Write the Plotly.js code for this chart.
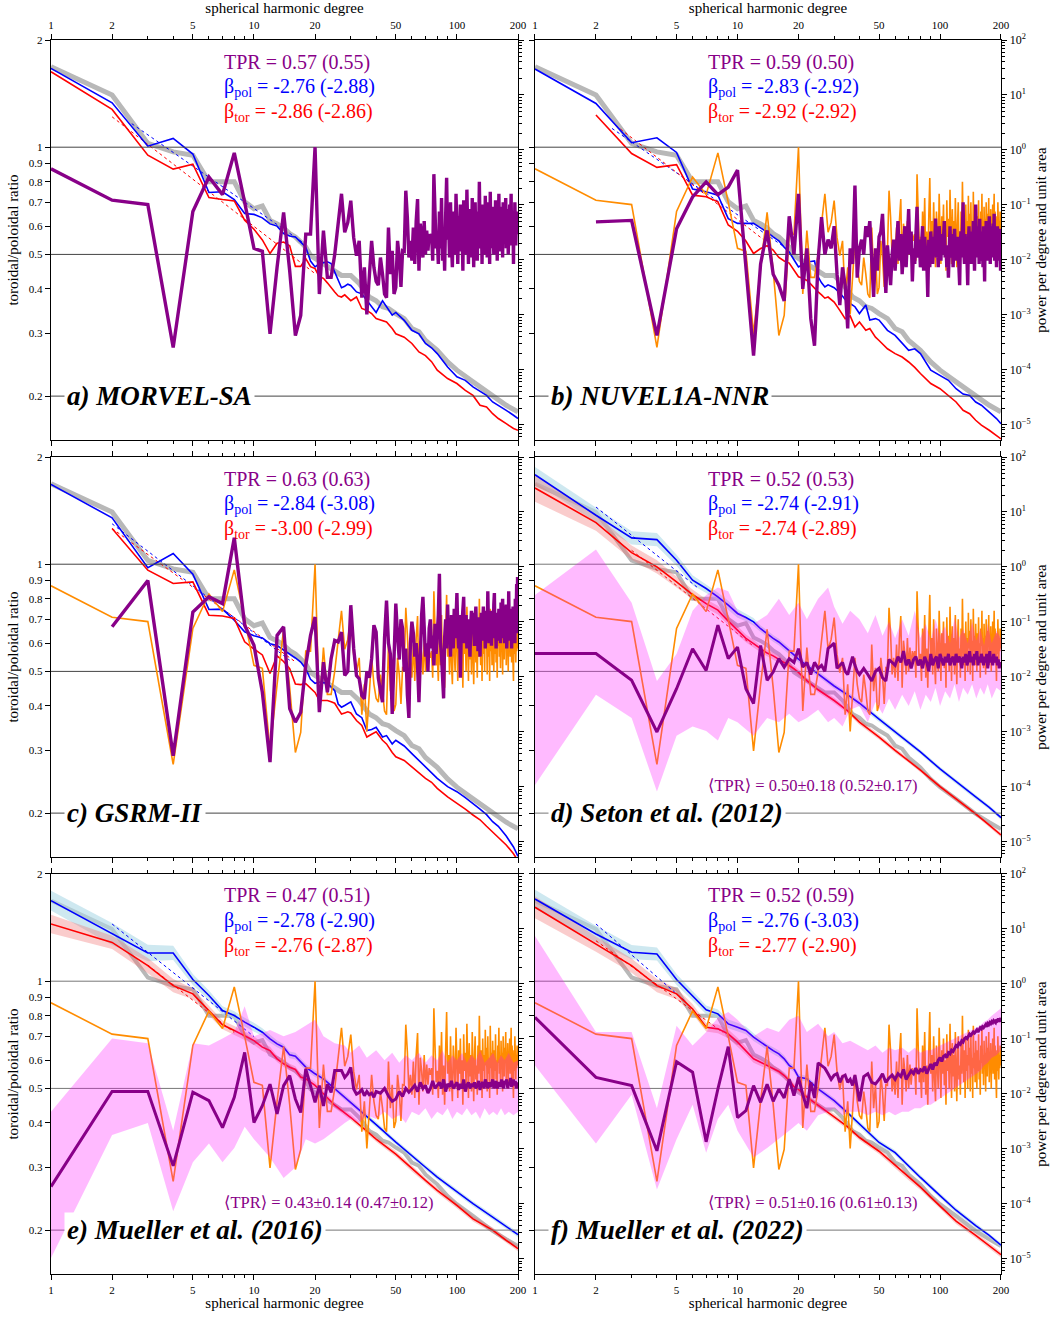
<!DOCTYPE html>
<html><head><meta charset="utf-8">
<script src="https://cdn.plot.ly/plotly-3.0.1.min.js"></script>
<style>body{margin:0;background:#fff}#chart{width:1057px;height:1318px}</style>
</head><body><div id="chart"></div>
<script>
// ---------------- DATA ----------------
// spherical harmonic degrees used by the per-degree TPR curves (1..200)
const DEG = Array.from({length:200},(_,i)=>i+1);
// degrees sampled for power spectra in panels a-c
const DEG_ABC = [1,2,3,4,5,6,7,8,9,10,11,12,13,14,15,16,17,18,19,20,21,22,23,24,25,26,27,28,29,30,
  32,34,36,38,40,43,45,48,50,55,60,65,70,75,80,90,100,110,120,130,140,150,160,175,190,200];
// degrees for gray reference spectrum
const DEG_GRAY = [1,2,3,4,5,6,7,8,9,10,11,12,13,14,15,16,17,18,19,20,21,
  23,25,27,30,33,37,40,43,46,50,55,60,65,70,80,90,100,120,140,150,175,200];
// degrees sampled for power spectra in panels d-f
const DEG_DEF = [1,2,3,4,5,6,7,8,9,10,11,12,13,14,15,16,17,18,19,20,22,25,30,35,40,50,60,70,80,100,120,150,175,200];
// degrees for smoother TPR curves of panels d-f
const DEG_S = [1,2,3,4,5,6,7,8,9,10,11,12,13,14,15,16,17,18,19,20,21,22,23,24,25,26,27,28,29,30,
  31,32,33,34,35,36,37,38,39,40,42,44,46,48,50,52,54,56,58,60,62,64,66,68,70,72,74,76,78,80,
  82,84,86,88,90,92,94,96,98,100,102,104,106,108,110,112,114,116,118,120,122,124,126,128,130,
  132,134,136,138,140,142,144,146,148,150,152,154,156,158,160,162,164,166,168,170,172,174,176,178,180,
  182,184,186,188,190,192,194,196,198,200];
// degrees for TPR spread bands (panels d-f)
const DEG_MB = [1,2,3,4,5,6,7,8,9,10,12,14,16,18,20,22,25,28,30,33,36,40,44,48,52,56,60,
  65,70,75,80,85,90,95,100,106,112,118,124,130,137,144,151,158,165,172,180,190,200];

// toroidal/poloidal ratio of MORVEL-SA (purple in a, orange reference in b-f)
const TPR_MORVEL = [0.87,0.71,0.69,0.274,0.66,0.825,0.736,0.964,0.70,0.52,
0.51,0.299,0.46,0.656,0.45,0.296,0.337,0.57,0.57,1.0,
0.387,0.583,0.431,0.431,0.50,0.622,0.74,0.577,0.615,0.708,
0.558,0.496,0.546,0.378,0.46,0.339,0.44,0.546,0.46,0.42,
0.41,0.49,0.44,0.387,0.378,0.595,0.44,0.512,0.387,0.404,
0.546,0.49,0.405,0.512,0.51,0.755,0.635,0.49,0.546,0.48,
0.595,0.47,0.62,0.715,0.45,0.61,0.56,0.49,0.62,0.50,
0.583,0.512,0.57,0.546,0.57,0.48,0.84,0.61,0.52,0.56,
0.47,0.66,0.52,0.72,0.48,0.58,0.45,0.64,0.82,0.55,
0.62,0.49,0.70,0.53,0.46,0.66,0.59,0.50,0.74,0.57,
0.47,0.64,0.55,0.69,0.51,0.60,0.45,0.71,0.56,0.63,
0.50,0.76,0.58,0.47,0.67,0.54,0.62,0.49,0.72,0.57,
0.46,0.61,0.70,0.53,0.58,0.48,0.66,0.55,0.80,0.60,
0.52,0.64,0.47,0.69,0.56,0.62,0.50,0.73,0.58,0.65,
0.49,0.70,0.55,0.61,0.47,0.75,0.57,0.63,0.52,0.68,
0.58,0.50,0.64,0.56,0.71,0.53,0.60,0.48,0.66,0.59,
0.74,0.55,0.62,0.51,0.68,0.57,0.63,0.49,0.70,0.58,
0.54,0.65,0.60,0.72,0.52,0.61,0.57,0.67,0.50,0.63,
0.59,0.69,0.55,0.62,0.74,0.53,0.66,0.58,0.61,0.47,
0.64,0.56,0.70,0.59,0.53,0.62,0.57,0.66,0.58,0.62];
const TPR_NUVEL = [null,0.617,0.623,0.296,0.59,0.725,0.799,0.736,0.773,0.862,
0.45,0.26,0.47,0.584,0.44,0.41,0.37,0.64,0.50,0.74,
0.40,0.52,0.33,0.277,0.48,0.636,0.50,0.55,0.52,0.60,
0.44,0.36,0.46,0.41,0.31,0.52,0.47,0.78,0.43,0.52,
0.55,0.50,0.60,0.56,0.62,0.48,0.38,0.52,0.45,0.56,
0.58,0.65,0.47,0.39,0.53,0.47,0.41,0.50,0.55,0.45,
0.52,0.62,0.48,0.57,0.44,0.53,0.60,0.46,0.55,0.67,
0.50,0.58,0.42,0.52,0.47,0.60,0.68,0.49,0.55,0.46,
0.53,0.60,0.45,0.56,0.50,0.48,0.38,0.55,0.46,0.58,
0.51,0.47,0.56,0.52,0.63,0.49,0.54,0.46,0.60,0.53,
0.48,0.57,0.50,0.55,0.62,0.49,0.53,0.46,0.51,0.43,
0.55,0.60,0.49,0.53,0.57,0.46,0.52,0.59,0.50,0.55,
0.48,0.56,0.51,0.45,0.41,0.54,0.58,0.49,0.62,0.70,
0.52,0.47,0.57,0.50,0.55,0.46,0.41,0.53,0.60,0.49,
0.56,0.51,0.47,0.58,0.53,0.62,0.50,0.45,0.56,0.69,
0.55,0.49,0.60,0.52,0.57,0.47,0.63,0.51,0.55,0.48,
0.58,0.52,0.46,0.60,0.54,0.42,0.57,0.50,0.62,0.53,
0.48,0.59,0.55,0.50,0.64,0.52,0.47,0.57,0.53,0.60,
0.49,0.55,0.61,0.51,0.65,0.48,0.56,0.52,0.58,0.46,
0.54,0.60,0.50,0.57,0.52,0.48,0.59,0.55,0.45,0.56];
const TPR_GSRM = [null,0.667,0.90,0.29,0.734,0.81,0.775,1.186,0.674,0.592,
0.437,0.278,0.631,0.667,0.393,0.36,0.384,0.52,0.631,0.711,
0.384,0.531,0.437,0.543,0.611,0.605,0.645,0.487,0.50,0.767,
0.58,0.487,0.477,0.428,0.419,0.50,0.48,0.543,0.674,0.645,
0.48,0.44,0.41,0.62,0.79,0.60,0.56,0.38,0.55,0.775,
0.63,0.54,0.70,0.66,0.50,0.58,0.43,0.37,0.60,0.69,
0.64,0.55,0.60,0.52,0.41,0.58,0.72,0.81,0.62,0.55,
0.60,0.50,0.66,0.70,0.58,0.63,0.52,0.68,0.56,0.64,
0.72,0.94,0.60,0.55,0.48,0.42,0.62,0.70,0.58,0.77,
0.60,0.68,0.55,0.72,0.64,0.58,0.75,0.62,0.70,0.83,
0.66,0.58,0.72,0.48,0.63,0.69,0.76,0.81,0.60,0.67,
0.72,0.58,0.65,0.70,0.62,0.55,0.68,0.74,0.64,0.73,
0.66,0.59,0.70,0.76,0.62,0.68,0.57,0.71,0.64,0.55,
0.67,0.73,0.61,0.69,0.76,0.63,0.72,0.58,0.66,0.74,
0.62,0.84,0.68,0.60,0.71,0.65,0.74,0.59,0.70,0.66,
0.63,0.77,0.83,0.62,0.70,0.58,0.73,0.66,0.61,0.69,
0.75,0.64,0.70,0.60,0.78,0.66,0.72,0.80,0.62,0.68,
0.74,0.60,0.70,0.65,0.77,0.58,0.69,0.72,0.63,0.84,
0.68,0.61,0.75,0.66,0.71,0.58,0.70,0.64,0.76,0.62,
0.69,0.73,0.60,0.80,0.66,0.72,0.88,0.64,0.92,0.70];
const TPR_SETON = [0.561,0.561,0.472,0.338,0.447,0.579,0.503,0.674,0.543,0.585,
0.447,0.406,0.591,0.472,0.498,0.543,0.514,0.543,0.53,0.579,
0.514,0.53,0.49,0.53,0.51,0.52,0.50,0.58,0.59,0.60,
0.51,0.52,0.53,0.50,0.49,0.52,0.55,0.52,0.50,0.49,
0.51,0.49,0.47,0.50,0.51,0.48,0.47,0.54,0.53,0.52,0.55,0.53,0.57,0.52,0.54,0.51,0.54,0.55,0.52,0.54,
0.51,0.55,0.53,0.50,0.56,0.52,0.54,0.55,0.51,0.56,0.54,0.52,0.55,0.53,0.56,0.52,0.54,0.55,0.52,0.56,
0.53,0.55,0.54,0.51,0.55,0.53,0.56,0.52,0.54,0.57,0.53,0.55,0.52,0.56,0.54,0.57,0.52,0.55,0.53,0.56,
0.54,0.52,0.55,0.53,0.56,0.51,0.54,0.57,0.53,0.55,0.52,0.56,0.54,0.53,0.55,0.52,0.54,0.51,0.53,0.52];
const TPR_M16 = [0.265,0.49,0.49,0.303,0.488,0.462,0.388,0.472,0.631,0.401,
0.447,0.514,0.424,0.509,0.543,0.467,0.428,0.567,0.509,0.457,
0.509,0.446,0.514,0.487,0.561,0.561,0.561,0.537,0.55,0.573,
0.498,0.482,0.487,0.496,0.477,0.49,0.48,0.485,0.472,0.49,
0.485,0.50,0.476,0.46,0.467,0.49,0.475,0.50,0.488,0.498,0.51,0.49,0.52,0.50,0.51,0.485,0.50,0.525,0.50,0.51,
0.52,0.50,0.53,0.49,0.515,0.505,0.525,0.50,0.51,0.52,0.495,0.515,0.50,0.53,0.49,0.51,0.52,0.50,0.515,0.505,
0.52,0.50,0.51,0.525,0.495,0.515,0.52,0.50,0.53,0.51,0.50,0.52,0.505,0.515,0.53,0.50,0.51,0.525,0.50,0.515,
0.52,0.505,0.53,0.51,0.50,0.525,0.515,0.53,0.50,0.52,0.51,0.535,0.505,0.52,0.53,0.51,0.525,0.50,0.515,0.52];
const TPR_M22 = [0.792,0.537,0.509,0.334,0.594,0.555,0.354,0.498,0.655,0.414,
0.433,0.509,0.457,0.514,0.46,0.498,0.47,0.531,0.477,0.537,
0.48,0.44,0.52,0.47,0.59,0.58,0.57,0.55,0.53,0.545,
0.55,0.52,0.54,0.545,0.52,0.53,0.51,0.545,0.50,0.46,
0.54,0.55,0.52,0.515,0.53,0.55,0.52,0.535,0.545,0.53,0.55,0.54,0.565,0.53,0.545,0.56,0.55,0.57,0.55,0.565,
0.56,0.575,0.55,0.57,0.585,0.565,0.59,0.58,0.60,0.61,0.595,0.615,0.62,0.61,0.63,0.625,0.64,0.635,0.65,0.66,
0.655,0.67,0.665,0.68,0.675,0.69,0.695,0.69,0.70,0.71,0.705,0.715,0.72,0.715,0.725,0.73,0.72,0.735,0.74,0.735,
0.745,0.74,0.75,0.755,0.745,0.76,0.755,0.765,0.76,0.77,0.765,0.775,0.77,0.765,0.78,0.775,0.785,0.78,0.77,0.79];

// TPR spread bands (upper / lower), panels d-f, at DEG_MB
const TPR_BAND_SETON_HI = [0.82,1.10,0.78,0.47,0.56,0.74,0.82,0.86,0.84,0.74,
  0.68,0.72,0.80,0.72,0.78,0.70,0.80,0.86,0.76,
  0.68,0.74,0.70,0.64,0.72,0.63,0.69,0.62,
  0.70,0.63,0.74,0.62,0.68,0.61,0.70,0.63,
  0.67,0.60,0.71,0.62,0.66,0.60,0.69,0.61,0.66,0.59,0.68,0.60,0.65,0.62];
const TPR_BAND_SETON_LO = [0.24,0.43,0.37,0.23,0.33,0.35,0.34,0.32,0.37,0.36,
  0.33,0.37,0.36,0.38,0.36,0.37,0.39,0.36,0.37,
  0.35,0.39,0.40,0.36,0.41,0.38,0.42,0.39,
  0.43,0.40,0.44,0.39,0.43,0.41,0.45,0.40,
  0.44,0.42,0.46,0.41,0.45,0.43,0.46,0.42,0.45,0.43,0.46,0.42,0.45,0.44];
const TPR_BAND_M16_HI = [0.43,0.69,0.67,0.38,0.67,0.66,0.69,0.72,0.85,0.70,
  0.73,0.70,0.72,0.75,0.78,0.70,0.67,0.66,0.63,
  0.66,0.61,0.64,0.60,0.63,0.59,0.62,0.60,
  0.63,0.59,0.62,0.60,0.64,0.59,0.62,0.60,
  0.63,0.59,0.62,0.60,0.64,0.59,0.61,0.63,0.59,0.62,0.60,0.63,0.59,0.60];
const TPR_BAND_M16_LO = [0.167,0.37,0.40,0.226,0.31,0.35,0.31,0.34,0.39,0.36,
  0.32,0.28,0.30,0.36,0.35,0.36,0.38,0.40,0.41,
  0.40,0.42,0.41,0.43,0.41,0.42,0.40,0.43,
  0.42,0.44,0.41,0.43,0.42,0.44,0.41,0.43,
  0.42,0.44,0.42,0.43,0.41,0.44,0.42,0.43,0.42,0.44,0.42,0.43,0.42,0.43];
const TPR_BAND_M22_HI = [1.34,0.72,0.72,0.44,0.75,0.66,0.72,0.79,0.82,0.78,
  0.70,0.74,0.72,0.78,0.80,0.72,0.76,0.70,0.72,
  0.67,0.68,0.66,0.64,0.66,0.63,0.65,0.64,
  0.65,0.63,0.65,0.63,0.64,0.64,0.65,0.66,
  0.67,0.68,0.69,0.70,0.71,0.72,0.73,0.74,0.75,0.77,0.78,0.80,0.82,0.84];
const TPR_BAND_M22_LO = [0.58,0.35,0.48,0.26,0.36,0.45,0.33,0.41,0.45,0.38,
  0.32,0.34,0.36,0.38,0.40,0.38,0.42,0.43,0.44,
  0.42,0.43,0.43,0.42,0.43,0.42,0.43,0.42,
  0.43,0.43,0.44,0.44,0.45,0.45,0.46,0.47,
  0.48,0.49,0.50,0.51,0.52,0.53,0.54,0.55,0.56,0.58,0.59,0.61,0.62,0.64];

// gray reference spectrum (same in every panel)
const POW_GRAY = [32.7,9.96,1.31,0.92,0.80,0.263,0.263,0.263,0.1135,0.085,0.095,0.052,0.045,0.038,0.030,0.026,0.021,0.017,0.012,0.0106,0.0095,
0.0074,0.0062,0.0052,0.0052,0.0037,0.0021,0.0018,0.0014,0.0013,0.00105,0.00085,0.00056,0.00049,0.00034,0.000225,0.000138,9.8e-5,6.0e-5,4.0e-5,3.2e-5,2.25e-5,1.7e-5];

// poloidal (blue) and toroidal (red) power, panels a-c
const POL_A = [30.5,7.2,1.17,1.62,0.84,0.168,0.173,0.125,0.0697,0.067,
0.058,0.045,0.041,0.030,0.027,0.026,0.021,0.017,0.0095,0.0074,
0.0085,0.0088,0.0092,0.0085,0.0060,0.0043,0.0031,0.0033,0.0036,0.0034,
0.0026,0.0024,0.0018,0.0014,0.0011,0.0018,0.0014,0.00098,0.0011,0.00079,0.00052,0.00045,0.0003,0.00025,0.000196,0.000112,7.4e-5,6.4e-5,4.85e-5,4.0e-5,3.4e-5,2.58e-5,2.25e-5,1.82e-5,1.48e-5,1.29e-5];
const TOR_A = [26.5,5.46,0.80,0.447,0.55,0.136,0.125,0.118,0.0526,0.036,
0.023,0.013,0.020,0.021,0.018,0.0076,0.0076,0.0105,0.0075,0.0069,
0.0049,0.0046,0.0038,0.0032,0.0026,0.0022,0.0021,0.0023,0.0020,0.0018,
0.0021,0.0013,0.0012,0.00105,0.00085,0.00079,0.00074,0.00056,0.00045,0.00039,0.0003,0.00021,0.00018,0.00014,9.8e-5,6.9e-5,5.6e-5,4.2e-5,3.4e-5,2.25e-5,2.1e-5,1.58e-5,1.29e-5,1.04e-5,8.5e-6,7.9e-6];
const POL_B = [29.6,7.0,1.35,1.66,0.90,0.193,0.173,0.15,0.056,0.046,
0.046,0.046,0.038,0.032,0.026,0.022,0.017,0.0138,0.010,0.0074,
0.0082,0.0091,0.0093,0.0095,0.0049,0.0038,0.0032,0.0035,0.0033,0.0031,
0.0025,0.0019,0.0016,0.0014,0.00105,0.0015,0.0008,0.00085,0.0008,0.00052,0.00042,0.0003,0.000225,0.00024,0.000196,9.8e-5,7.9e-5,6.4e-5,4.5e-5,3.6e-5,3.4e-5,2.58e-5,2.25e-5,1.7e-5,1.29e-5,1.04e-5];
const TOR_B = [null,4.3,0.86,0.48,0.54,0.15,0.14,0.1135,0.043,0.033,
0.022,0.013,0.016,0.018,0.015,0.011,0.0095,0.0087,0.0065,0.0049,
0.0046,0.0042,0.0036,0.0030,0.0026,0.0023,0.0020,0.0021,0.0019,0.0017,
0.0012,0.00085,0.00095,0.0006,0.00074,0.00052,0.00056,0.00039,0.00034,0.00024,0.000196,0.00017,0.000138,0.00011,8.5e-5,5.6e-5,4.5e-5,3.4e-5,2.58e-5,1.82e-5,1.58e-5,1.2e-5,9.8e-6,7.9e-6,6.4e-6,5.5e-6];
const POL_C = [31.8,7.8,0.97,1.75,0.736,0.168,0.17,0.107,0.066,0.056,
0.051,0.040,0.037,0.031,0.026,0.022,0.0185,0.014,0.009,0.0076,
0.008,0.0078,0.0076,0.0065,0.0056,0.0032,0.0028,0.003,0.0033,0.0035,
0.0021,0.0018,0.00105,0.0011,0.0012,0.0008,0.00085,0.0006,0.0007,0.00055,0.0004,0.0003,0.00023,0.00018,0.000142,0.0001,8.1e-5,6.3e-5,5.0e-5,3.9e-5,3.1e-5,2.3e-5,1.9e-5,1.26e-5,8e-6,5.4e-6];
const TOR_C = [null,5.0,0.87,0.5,0.533,0.132,0.128,0.115,0.0433,0.032,
0.025,0.0115,0.024,0.019,0.014,0.0074,0.0072,0.0075,0.0063,0.0052,
0.0037,0.0037,0.0037,0.0035,0.0033,0.0026,0.0021,0.0022,0.0023,0.0022,
0.0016,0.0013,0.0008,0.0009,0.001,0.0007,0.0006,0.00042,0.00035,0.0003,0.00023,0.00018,0.000142,0.00012,9.3e-5,6.5e-5,5.0e-5,3.9e-5,3.05e-5,2.5e-5,1.9e-5,1.5e-5,1.2e-5,8.7e-6,6e-6,4.5e-6];

// poloidal / toroidal power, panels d-f
const POL_D = [47.7,8.7,3.37,3.14,1.32,0.573,0.404,0.285,0.201,0.142,0.12,0.10,0.075,0.06,0.05,0.043,0.036,0.030,0.025,0.021,
0.016,0.0115,0.0068,0.0047,0.0033,0.0017,0.001,0.00063,0.00043,0.00021,0.000126,6.5e-5,4.2e-5,2.73e-5];
const TOR_D = [27.3,6.4,1.82,1.0,0.533,0.314,0.215,0.163,0.103,0.07,0.05,0.04,0.032,0.027,0.024,0.021,0.018,0.016,0.014,0.012,
0.0085,0.0058,0.0037,0.0024,0.0015,0.0008,0.00046,0.0003,0.0002,0.0001,6.0e-5,3.2e-5,2.0e-5,1.32e-5];
const POL_E = [32.7,8.1,3.66,3.66,1.2,0.614,0.327,0.265,0.201,0.163,0.132,0.1,0.081,0.0705,0.051,0.0484,0.0376,0.0305,0.0265,0.0231,
0.0187,0.0125,0.007,0.0042,0.00275,0.00132,0.00076,0.00046,0.000305,0.000163,1.0e-4,5.7e-5,3.9e-5,2.73e-5];
const TOR_E = [12.3,5.7,2.15,0.93,0.658,0.327,0.18,0.142,0.115,0.093,0.0705,0.061,0.0433,0.0351,0.0305,0.0277,0.0201,0.0187,0.0163,0.0142,
0.01,0.0062,0.0037,0.0023,0.0015,0.0008,0.00043,0.000265,0.000175,9.3e-5,5.3e-5,3.3e-5,2.15e-5,1.52e-5];
const POL_F = [35,8.1,3.77,3.5,1.2,0.614,0.337,0.285,0.187,0.163,0.142,0.107,0.087,0.0705,0.061,0.0533,0.0433,0.0327,0.0285,0.0201,
0.0187,0.0123,0.0075,0.0045,0.0028,0.0013,0.00085,0.00048,0.0003,0.00014,7.6e-5,4.0e-5,2.65e-5,1.75e-5];
const TOR_F = [24.8,5.3,2.15,0.93,0.658,0.35,0.163,0.152,0.123,0.087,0.061,0.0433,0.0376,0.0327,0.0293,0.0255,0.0215,0.0175,0.0135,0.012,
0.0087,0.0061,0.0038,0.0025,0.0016,0.0009,0.0005,0.0003,0.0002,9e-5,4.8e-5,2.65e-5,1.75e-5,1.18e-5];

// half-widths (decades) of the spectral uncertainty bands, panels d-f
const BW_POL_D = [0.14,0.13,0.12,0.12,0.1,0.09,0.08,0.08,0.08,0.08,0.07,0.07,0.06,0.06,0.06,0.06,0.06,0.06,0.06,0.06,0.05,0.05,0.05,0.05,0.05,0.045,0.045,0.04,0.04,0.04,0.04,0.04,0.04,0.04];
const BW_TOR_D = [0.25,0.15,0.13,0.12,0.1,0.09,0.08,0.08,0.08,0.08,0.07,0.07,0.06,0.06,0.06,0.06,0.06,0.06,0.06,0.06,0.05,0.05,0.05,0.05,0.05,0.045,0.045,0.04,0.04,0.04,0.04,0.04,0.04,0.04];
const BW_POL_E = [0.18,0.2,0.15,0.13,0.1,0.09,0.08,0.08,0.08,0.08,0.07,0.07,0.06,0.06,0.06,0.06,0.06,0.06,0.06,0.06,0.05,0.05,0.05,0.05,0.05,0.045,0.045,0.045,0.045,0.045,0.045,0.045,0.045,0.045];
const BW_TOR_E = [0.17,0.12,0.14,0.12,0.1,0.09,0.08,0.08,0.08,0.08,0.07,0.07,0.06,0.06,0.06,0.06,0.06,0.06,0.06,0.06,0.05,0.05,0.05,0.05,0.05,0.05,0.05,0.05,0.05,0.05,0.05,0.05,0.05,0.05];
const BW_POL_F = [0.17,0.15,0.13,0.12,0.1,0.09,0.08,0.08,0.08,0.08,0.07,0.07,0.06,0.06,0.06,0.06,0.06,0.06,0.06,0.06,0.05,0.05,0.05,0.05,0.05,0.045,0.045,0.045,0.045,0.045,0.045,0.045,0.045,0.045];
const BW_TOR_F = [0.2,0.14,0.13,0.12,0.1,0.09,0.08,0.08,0.08,0.08,0.07,0.07,0.06,0.06,0.06,0.06,0.06,0.06,0.06,0.06,0.05,0.05,0.05,0.05,0.05,0.05,0.05,0.05,0.05,0.05,0.05,0.05,0.05,0.05];

// power-law fit lines (end points): [deg0, deg1], [P0, P1]
const FIT_POL_X = [[2.5,18],[2.4,17],[2,15],[2,6.3],[2,10],[2,5.6]];
const FIT_POL_Y = [[3.0,0.019],[2.46,0.0172],[6.1,0.02],[12.3,0.43],[12.3,0.11],[12.3,0.46]];
const FIT_TOR_X = [[2,20],[2.5,13.5],[2,16],[3,12],[3,8],[2,8.5]];
const FIT_TOR_Y = [[4.0,0.0056],[2.8,0.023],[5.0,0.0187],[2.0,0.036],[2.2,0.13],[6.1,0.13]];

// panel texts
const LABELS = ['a) MORVEL-SA','b) NUVEL1A-NNR','c) GSRM-II','d) Seton et al. (2012)','e) Mueller et al. (2016)','f) Mueller et al. (2022)'];
const TPR_TXT = ['0.57 (0.55)','0.59 (0.50)','0.63 (0.63)','0.52 (0.53)','0.47 (0.51)','0.52 (0.59)'];
const BPOL_TXT = ['-2.76 (-2.88)','-2.83 (-2.92)','-2.84 (-3.08)','-2.74 (-2.91)','-2.78 (-2.90)','-2.76 (-3.03)'];
const BTOR_TXT = ['-2.86 (-2.86)','-2.92 (-2.92)','-3.00 (-2.99)','-2.74 (-2.89)','-2.76 (-2.87)','-2.77 (-2.90)'];
const MEAN_TXT = [null,null,null,'0.50±0.18 (0.52±0.17)','0.43±0.14 (0.47±0.12)','0.51±0.16 (0.61±0.13)'];

// tick labels
const X_TICKS = [1,2,5,10,20,50,100,200];
const X_TICK_TXT = ['1','2','5','10','20','50','100','200'];
const X_MINOR = [3,4,6,7,8,9,30,40,60,70,80,90];
const R_TICKS = [0.2,0.3,0.4,0.5,0.6,0.7,0.8,0.9,1,2];
const R_TICK_TXT = ['0.2','0.3','0.4','0.5','0.6','0.7','0.8','0.9','1','2'];
const P_TICKS = [1e-5,1e-4,1e-3,1e-2,1e-1,1,10,100];
const P_TICK_TXT = ['10<sup>−5</sup>','10<sup>−4</sup>','10<sup>−3</sup>','10<sup>−2</sup>','10<sup>−1</sup>','10<sup>0</sup>','10<sup>1</sup>','10<sup>2</sup>'];

// ---------------- BUILD ----------------
const FONT = '"Liberation Serif","DejaVu Serif",serif';
const PURPLE = '#880088', ORANGE = '#ff8c00', BLUE = '#0000ff', RED = '#ff0000', GRAY = '#b8b8b8';
const P_MINOR = [];
for (let e = -6; e <= 1; e++) for (let k = 2; k <= 9; k++) P_MINOR.push(k * Math.pow(10, e));

const panels = [
  {pol:POL_A, tor:TOR_A, dp:DEG_ABC, tpr:TPR_MORVEL, dt:DEG, orange:false},
  {pol:POL_B, tor:TOR_B, dp:DEG_ABC, tpr:TPR_NUVEL, dt:DEG, orange:true},
  {pol:POL_C, tor:TOR_C, dp:DEG_ABC, tpr:TPR_GSRM, dt:DEG, orange:true},
  {pol:POL_D, tor:TOR_D, dp:DEG_DEF, tpr:TPR_SETON, dt:DEG_S, orange:true, bwp:BW_POL_D, bwt:BW_TOR_D, mhi:TPR_BAND_SETON_HI, mlo:TPR_BAND_SETON_LO},
  {pol:POL_E, tor:TOR_E, dp:DEG_DEF, tpr:TPR_M16, dt:DEG_S, orange:true, bwp:BW_POL_E, bwt:BW_TOR_E, mhi:TPR_BAND_M16_HI, mlo:TPR_BAND_M16_LO},
  {pol:POL_F, tor:TOR_F, dp:DEG_DEF, tpr:TPR_M22, dt:DEG_S, orange:true, bwp:BW_POL_F, bwt:BW_TOR_F, mhi:TPR_BAND_M22_HI, mlo:TPR_BAND_M22_LO}
];

const colDom = [[0, 0.49158], [0.50947, 1]];
const rowDom = [[0.67585, 1], [0.33793, 0.66207], [0, 0.32415]];

const layout = {
  width:1057, height:1318, margin:{l:51, r:56, t:40, b:44},
  showlegend:false, paper_bgcolor:'#fff', plot_bgcolor:'#fff',
  font:{family:FONT, size:11, color:'#000'},
  annotations:[]
};
const traces = [];

function polygon(x, hi, lo) {
  return {x: x.concat(x.slice().reverse()), y: hi.concat(lo.slice().reverse())};
}

panels.forEach((P, p) => {
  const col = p % 2, row = Math.floor(p / 2);
  const xid = p ? 'x' + (p + 1) : 'x';
  const pid = p ? 'y' + (p + 1) : 'y';      // power axis (base, right)
  const rid = 'y' + (p + 7);                  // ratio axis (overlay, left)
  const xname = p ? 'xaxis' + (p + 1) : 'xaxis';
  const pname = p ? 'yaxis' + (p + 1) : 'yaxis';
  const rname = 'yaxis' + (p + 7);

  layout[xname] = {
    type:'log', domain:colDom[col], anchor:pid, range:[0, Math.log10(200)],
    tickmode:'array', tickvals:X_TICKS, ticktext:X_TICK_TXT,
    side: row === 0 ? 'top' : 'bottom', showticklabels: row !== 1,
    ticks:'outside', ticklen:5, tickwidth:1, tickcolor:'#000',
    showline:true, linewidth:1.3, linecolor:'#000', mirror:'ticks',
    showgrid:false, zeroline:false, tickfont:{size:11},
    minor:{tickmode:'array', tickvals:X_MINOR, ticks:'outside', ticklen:3, tickcolor:'#000', showgrid:false},
    title: row !== 1 ? {text:'spherical harmonic degree', font:{size:15}, standoff:3} : {text:''}
  };
  layout[pname] = {
    type:'log', domain:rowDom[row], anchor:xid, side:'right', range:[-5.28, 2],
    tickmode:'array', tickvals:P_TICKS, ticktext:P_TICK_TXT, showticklabels: col === 1,
    ticks:'outside', ticklen:5, tickwidth:1, tickcolor:'#000',
    showline:true, linewidth:1.3, linecolor:'#000', showgrid:false, zeroline:false,
    tickfont:{size:12},
    minor:{tickmode:'array', tickvals:P_MINOR, ticks:'outside', ticklen:3, tickcolor:'#000', showgrid:false},
    title: col === 1 ? {text:'power per degree and unit area', font:{size:15}, standoff:5} : {text:''}
  };
  layout[rname] = {
    type:'log', overlaying:pid, anchor:xid, side:'left', range:[Math.log10(0.1506), Math.log10(2)],
    tickmode:'array', tickvals:R_TICKS, ticktext:R_TICK_TXT, showticklabels: col === 0,
    ticks:'outside', ticklen:5, tickwidth:1, tickcolor:'#000',
    showline:true, linewidth:1.3, linecolor:'#000', showgrid:false, zeroline:false,
    tickfont:{size:11},
    title: col === 0 ? {text:'toroidal/poloidal ratio', font:{size:15}, standoff:6} : {text:''}
  };

  // ---- power layer (base) ----
  traces.push({x:DEG_GRAY, y:POW_GRAY, xaxis:xid, yaxis:pid, mode:'lines', line:{color:GRAY, width: p < 3 ? 5 : 4}, hoverinfo:'skip'});
  if (P.bwp) {
    const hiP = P.pol.map((v,i)=>v*Math.pow(10,P.bwp[i])), loP = P.pol.map((v,i)=>v/Math.pow(10,P.bwp[i]));
    const hiT = P.tor.map((v,i)=>v*Math.pow(10,P.bwt[i])), loT = P.tor.map((v,i)=>v/Math.pow(10,P.bwt[i]));
    const bp = polygon(P.dp, hiP, loP), bt = polygon(P.dp, hiT, loT);
    traces.push({x:bp.x, y:bp.y, xaxis:xid, yaxis:pid, mode:'lines', line:{width:0}, fill:'toself', fillcolor:'rgba(173,216,230,0.6)', hoverinfo:'skip'});
    traces.push({x:bt.x, y:bt.y, xaxis:xid, yaxis:pid, mode:'lines', line:{width:0}, fill:'toself', fillcolor:'rgba(240,110,110,0.35)', hoverinfo:'skip'});
  }
  traces.push({x:FIT_POL_X[p], y:FIT_POL_Y[p], xaxis:xid, yaxis:pid, mode:'lines', line:{color:BLUE, width:1, dash:'dot'}});
  traces.push({x:FIT_TOR_X[p], y:FIT_TOR_Y[p], xaxis:xid, yaxis:pid, mode:'lines', line:{color:RED, width:1, dash:'dot'}});
  traces.push({x:P.dp, y:P.pol, xaxis:xid, yaxis:pid, mode:'lines', line:{color:BLUE, width:1.6}});
  traces.push({x:P.dp, y:P.tor, xaxis:xid, yaxis:pid, mode:'lines', line:{color:RED, width:1.6}});

  // ---- ratio layer (overlay) ----
  const gl = p < 3 ? '#444' : '#777';
  [1, 0.5, 0.2].forEach(v => traces.push({x:[1,200], y:[v,v], xaxis:xid, yaxis:rid, mode:'lines', line:{color:gl, width:1}, hoverinfo:'skip'}));
  if (P.orange) traces.push({x:DEG, y:TPR_MORVEL, xaxis:xid, yaxis:rid, mode:'lines', line:{color:ORANGE, width:1.6}});
  if (P.mhi) {
    const mb = polygon(DEG_MB, P.mhi, P.mlo);
    traces.push({x:mb.x, y:mb.y, xaxis:xid, yaxis:rid, mode:'lines', line:{width:0}, fill:'toself', fillcolor:'rgba(255,0,255,0.27)', hoverinfo:'skip'});
  }
  traces.push({x:P.dt, y:P.tpr, xaxis:xid, yaxis:rid, mode:'lines', line:{color:PURPLE, width: p < 3 ? 3.4 : 3}});

  // ---- annotations ----
  const xr = xid + ' domain', yr = pid + ' domain';
  const ann = (text, x, y, size, color, extra) => layout.annotations.push(Object.assign({
    text, x, y, xref:xr, yref:yr, xanchor:'left', yanchor:'middle', showarrow:false,
    font:{family:FONT, size, color}
  }, extra || {}));
  ann('TPR = ' + TPR_TXT[p], 0.366, 0.945, 20, PURPLE);
  ann('β<sub>pol</sub> = ' + BPOL_TXT[p], 0.366, 0.882, 20, BLUE);
  ann('β<sub>tor</sub> = ' + BTOR_TXT[p], 0.366, 0.818, 20, RED);
  if (MEAN_TXT[p]) ann('⟨TPR⟩ = ' + MEAN_TXT[p], 0.366, 0.1775, 16.5, PURPLE);
  ann('<b><i>' + LABELS[p] + '</i></b>', 0.027, 0.111, 27, '#000', {bgcolor:'#fff', borderpad:2});
});

Plotly.newPlot('chart', traces, layout, {staticPlot:true, displayModeBar:false});
</script></body></html>
